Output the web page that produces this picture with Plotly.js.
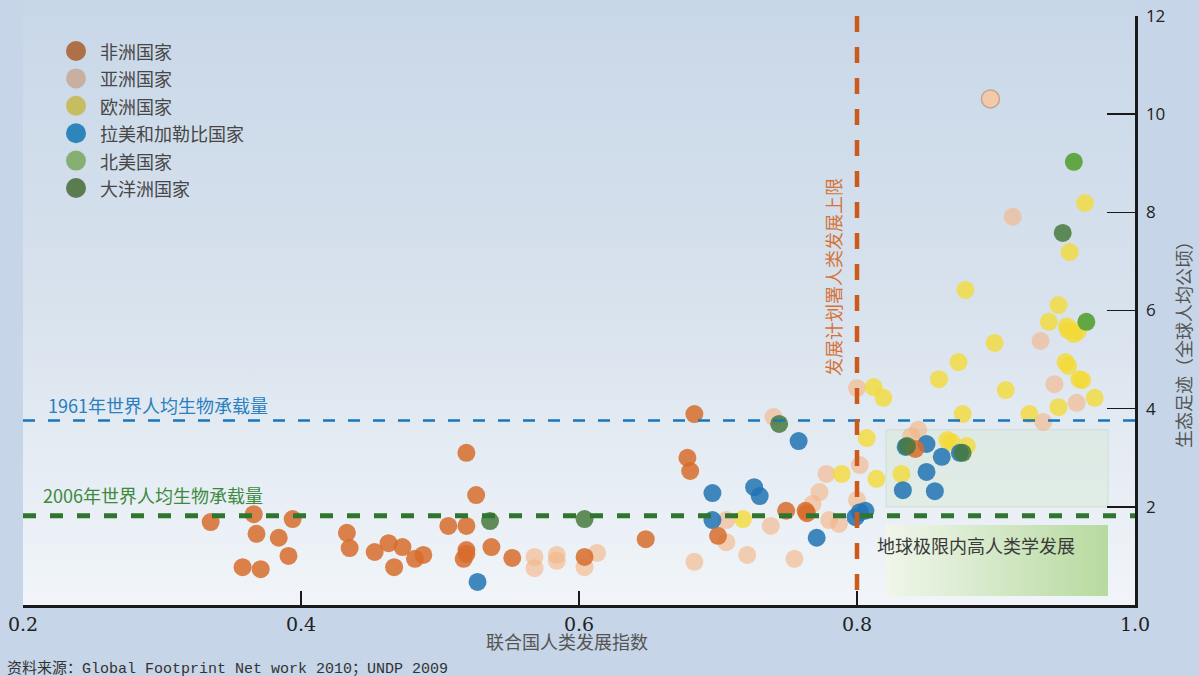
<!DOCTYPE html>
<html>
<head>
<meta charset="utf-8">
<script src="https://cdn.plot.ly/plotly-3.0.1.min.js"></script>
<style>
  html, body { margin: 0; padding: 0; background: #c6d5e7; }
  #chart { width: 1199px; height: 676px; }
</style>
</head>
<body>
<div id="chart"></div>
<script>
// Human Development Index (x) vs. ecological footprint in global hectares per person (y)
const regionNames = ['非洲国家', '亚洲国家', '欧洲国家', '拉美和加勒比国家', '北美国家', '大洋洲国家'];
const legendColors = ['#ae7048', '#c9afa2', '#c5bd5f', '#2d85bb', '#85b072', '#5a7c50'];

const africaHDI = [0.335,0.366,0.368,0.384,0.394,0.391,0.358,0.371,0.433,0.435,0.453,0.463,0.473,0.467,0.482,0.488,0.506,0.519,0.519,0.526,0.519,0.519,0.517,0.537,0.552,0.604,0.648,0.683,0.678,0.680,0.700,0.749,0.763,0.764,0.842];
const africaEF  = [1.69,1.85,1.45,1.37,1.75,1.00,0.77,0.73,1.47,1.16,1.08,1.26,1.18,0.77,0.94,1.02,1.61,1.61,3.10,2.24,1.12,1.04,0.94,1.18,0.96,0.98,1.34,3.89,3.00,2.73,1.41,1.92,1.92,1.87,3.18];

const asiaHDI = [0.896,0.912,0.932,0.942,0.958,0.934,0.800,0.844,0.839,0.802,0.800,0.778,0.773,0.768,0.780,0.787,0.740,0.706,0.706,0.721,0.738,0.755,0.683,0.568,0.568,0.584,0.584,0.604,0.613];
const asiaEF  = [10.31,7.91,5.38,4.50,4.12,3.73,4.42,3.57,3.44,2.85,2.14,2.67,2.30,2.06,1.73,1.65,3.83,1.73,1.28,1.02,1.61,0.94,0.88,0.98,0.75,1.02,0.90,0.77,1.06];

const europeHDI = [0.964,0.953,0.878,0.945,0.938,0.951,0.952,0.956,0.959,0.899,0.873,0.859,0.950,0.952,0.960,0.962,0.812,0.907,0.819,0.971,0.945,0.876,0.924,0.807,0.865,0.868,0.879,0.789,0.814,0.832,0.718];
const europeEF  = [8.19,7.19,6.42,6.11,5.77,5.68,5.60,5.52,5.58,5.34,4.95,4.60,4.95,4.87,4.60,4.58,4.44,4.38,4.22,4.22,4.03,3.89,3.89,3.40,3.36,3.32,3.24,2.67,2.57,2.67,1.75];

const latamHDI = [0.527,0.696,0.696,0.726,0.730,0.758,0.771,0.799,0.802,0.806,0.835,0.850,0.861,0.874,0.850,0.833,0.856];
const latamEF  = [0.47,2.28,1.73,2.40,2.22,3.34,1.37,1.79,1.89,1.92,3.22,3.28,3.02,3.10,2.71,2.34,2.32];

const northAmHDI = [0.956,0.965];
const northAmEF  = [9.03,5.77];

const oceaniaHDI = [0.948,0.744,0.536,0.604,0.836,0.876];
const oceaniaEF  = [7.58,3.69,1.71,1.75,3.24,3.10];

// Reference levels
const biocapacity1961 = 3.76;
const biocapacity2006 = 1.82;
const highHDIThreshold = 0.8;

const xTicks = [0.2, 0.4, 0.6, 0.8, 1.0];
const xTickText = ['0.2', '0.4', '0.6', '0.8', '1.0'];
const yTicks = [2, 4, 6, 8, 10, 12];
const yTickText = ['2', '4', '6', '8', '10', '12'];

const CJK = '"Noto Sans CJK SC", "Noto Sans", sans-serif';

// Plot area in pixels: left 23, right 1135, top 16, bottom 605
const L = 23, R = 1135, T = 16, B = 605;
const px2x = px => (px - L) / (R - L);
const py2y = py => (B - py) / (B - T);

function gradientURI(stops, horizontal) {
  const stopTags = stops.map(s => `<stop offset="${s[0]}" stop-color="${s[1]}"/>`).join('');
  const svg = `<svg xmlns="http://www.w3.org/2000/svg" width="200" height="200" viewBox="0 0 200 200" preserveAspectRatio="none">` +
    `<defs><linearGradient id="g" x1="0" y1="0" x2="${horizontal ? 1 : 0}" y2="${horizontal ? 0 : 1}">${stopTags}</linearGradient></defs>` +
    `<rect width="200" height="200" fill="url(#g)"/></svg>`;
  return 'data:image/svg+xml;base64,' + btoa(svg);
}

function pointTrace(name, xs, ys, color, opacity, extra) {
  const t = {
    type: 'scatter', mode: 'markers', name: name, x: xs, y: ys,
    showlegend: false, hoverinfo: 'skip',
    marker: { size: 18, color: color, opacity: opacity, line: { width: 0 } }
  };
  if (extra) Object.assign(t.marker, extra);
  return t;
}

// Asian points: the top outlier is drawn opaque, paler, with an outline
const asiaColor = asiaHDI.map((v, i) => i === 0 ? '#f3caa9' : '#f4b586');
const asiaOpacity = asiaHDI.map((v, i) => i === 0 ? 1 : 0.62);
const asiaLineW = asiaHDI.map((v, i) => i === 0 ? 1.5 : 0);

const traces = [
  pointTrace(regionNames[1], asiaHDI, asiaEF, asiaColor, asiaOpacity, { line: { width: asiaLineW, color: '#c4a494' } }),
  pointTrace(regionNames[2], europeHDI, europeEF, '#f3da35', 0.78),
  pointTrace(regionNames[3], latamHDI, latamEF, '#2173b3', 0.85),
  pointTrace(regionNames[0], africaHDI, africaEF, '#d76c2c', 0.85),
  pointTrace(regionNames[5], oceaniaHDI, oceaniaEF, '#467a3c', 0.85),
  pointTrace(regionNames[4], northAmHDI, northAmEF, '#57a236', 0.92)
];

const shapes = [
  // faint panel inside the high-HDI area
  { type: 'rect', xref: 'x', yref: 'y', x0: 0.8209, x1: 0.9806, y0: 2.0, y1: 3.57, layer: 'below',
    fillcolor: 'rgba(214,232,212,0.45)', line: { color: 'rgba(200,216,204,0.7)', width: 1 } },
  // biocapacity reference lines
  { type: 'line', xref: 'paper', yref: 'y', x0: 0, x1: 1, y0: biocapacity1961, y1: biocapacity1961, layer: 'above',
    line: { color: '#1a75bb', width: 2.6, dash: '12px,13px' } },
  { type: 'line', xref: 'paper', yref: 'y', x0: 0, x1: 1, y0: biocapacity2006, y1: biocapacity2006, layer: 'above',
    line: { color: '#2f7530', width: 5, dash: '13px,14px' } },
  // high human development threshold, dashed from the top down
  { type: 'line', xref: 'x', yref: 'y', x0: highHDIThreshold, x1: highHDIThreshold, y0: 12, y1: 0, layer: 'above',
    line: { color: '#cc5a1a', width: 4.5, dash: '16px,15px' } }
];

// legend keys
const rowY = regionNames.map((n, i) => 51 + i * 27.4);
regionNames.forEach((n, i) => {
  shapes.push({ type: 'circle', xref: 'paper', yref: 'paper', xsizemode: 'pixel', ysizemode: 'pixel',
    xanchor: px2x(76), yanchor: py2y(rowY[i]), x0: -10, x1: 10, y0: -10, y1: 10,
    fillcolor: legendColors[i], line: { width: 0 }, layer: 'above' });
});

const annotations = regionNames.map((n, i) => ({
  xref: 'paper', yref: 'paper', x: px2x(98), y: py2y(rowY[i]), xanchor: 'left', yanchor: 'middle',
  text: n, showarrow: false, font: { family: CJK, size: 18, color: '#474747' }
}));

annotations.push(
  { xref: 'paper', yref: 'paper', x: px2x(46), y: py2y(405), xanchor: 'left', yanchor: 'middle',
    text: '1961年世界人均生物承载量', showarrow: false, font: { family: CJK, size: 18, color: '#2a7fc0' } },
  { xref: 'paper', yref: 'paper', x: px2x(41), y: py2y(495), xanchor: 'left', yanchor: 'middle',
    text: '2006年世界人均生物承载量', showarrow: false, font: { family: CJK, size: 18, color: '#3c8a3c' } },
  { xref: 'paper', yref: 'paper', x: px2x(833), y: py2y(277), xanchor: 'center', yanchor: 'middle', textangle: -90,
    text: '发展计划署人类发展上限', showarrow: false, font: { family: CJK, size: 18, color: '#d4743a' } },
  { xref: 'paper', yref: 'paper', x: px2x(875), y: py2y(545), xanchor: 'left', yanchor: 'middle',
    text: '地球极限内高人类学发展', showarrow: false, font: { family: CJK, size: 18, color: '#3a3a3a' } },
  { xref: 'paper', yref: 'paper', x: px2x(1183), y: py2y(340), xanchor: 'center', yanchor: 'middle', textangle: -90,
    text: '生态足迹（全球人均公顷）', showarrow: false, font: { family: CJK, size: 18, color: '#555555' } },
  { xref: 'paper', yref: 'paper', x: px2x(567), y: py2y(641), xanchor: 'center', yanchor: 'middle',
    text: '联合国人类发展指数', showarrow: false, font: { family: CJK, size: 18, color: '#555555' } },
  { xref: 'paper', yref: 'paper', x: px2x(5), y: py2y(669), xanchor: 'left', yanchor: 'middle',
    text: '资料来源：Global Footprint Net work 2010；UNDP 2009', showarrow: false,
    font: { family: '"Liberation Mono", "Noto Sans CJK SC", monospace', size: 15, color: '#333333' } }
);

const images = [
  { source: gradientURI([[0, '#c8d7e8'], [0.5, '#d8e2ed'], [1, '#f1f5f9']], false),
    xref: 'paper', yref: 'paper', x: 0, y: py2y(0), sizex: 1, sizey: py2y(0), xanchor: 'left', yanchor: 'top',
    sizing: 'stretch', layer: 'below' },
  { source: gradientURI([[0, '#f0f6ea'], [0.35, '#dcecd2'], [1, '#b7da9f']], true),
    xref: 'x', yref: 'y', x: 0.8209, y: 1.63, sizex: 0.1597, sizey: 1.45, xanchor: 'left', yanchor: 'top',
    sizing: 'stretch', layer: 'below' }
];

const layout = {
  width: 1199, height: 676,
  margin: { l: L, r: 1199 - R, t: T, b: 676 - B, pad: 0 },
  paper_bgcolor: '#c6d5e7',
  plot_bgcolor: 'rgba(0,0,0,0)',
  showlegend: false,
  xaxis: {
    range: [0.2, 1.0], tickvals: xTicks, ticktext: xTickText,
    ticks: 'inside', ticklen: 14, tickwidth: 1.5, tickcolor: '#1a1a1a',
    showline: true, linewidth: 3, linecolor: '#1a1a1a',
    showgrid: false, zeroline: false,
    tickfont: { family: '"DejaVu Serif", "Liberation Serif", serif', size: 19, color: '#222222' }
  },
  yaxis: {
    side: 'right', range: [0, 12], tickvals: yTicks, ticktext: yTickText,
    ticks: 'inside', ticklen: 28, tickwidth: 1.5, tickcolor: '#1a1a1a',
    showline: true, linewidth: 2.5, linecolor: '#1a1a1a',
    showgrid: false, zeroline: false, ticklabelstandoff: 5,
    tickfont: { family: '"Open Sans", sans-serif', size: 17, color: '#222222' }
  },
  shapes: shapes,
  annotations: annotations,
  images: images
};

Plotly.newPlot('chart', traces, layout, { staticPlot: true, displayModeBar: false });
</script>
</body>
</html>
